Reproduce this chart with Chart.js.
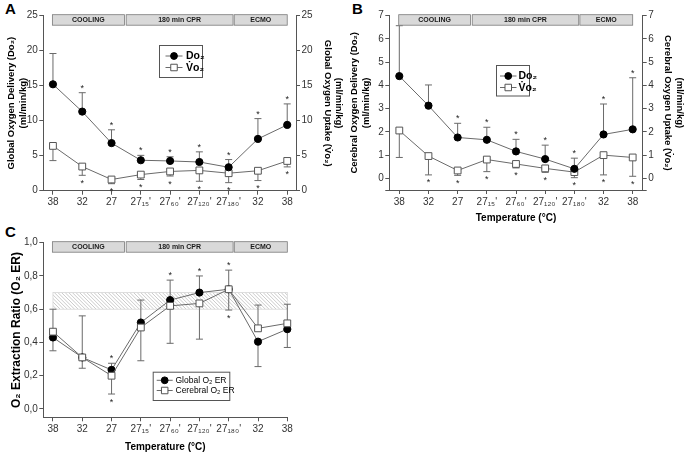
<!DOCTYPE html>
<html><head><meta charset="utf-8">
<script src="https://cdn.jsdelivr.net/npm/chart.js@4/dist/chart.umd.min.js"></script>
<style>
html,body{margin:0;padding:0;background:#fff;}
body{width:685px;height:454px;position:relative;overflow:hidden;font-family:Arial,"Liberation Sans",Helvetica,sans-serif;}
canvas{position:absolute;display:block;}
.lbl{position:absolute;font-weight:bold;font-size:15px;line-height:15px;color:#000;}
</style></head><body>
<div class="lbl" style="left:5px;top:1px">A</div>
<div class="lbl" style="left:352px;top:1px">B</div>
<div class="lbl" style="left:5px;top:224px">C</div>
<canvas id="cA" width="345" height="215" style="left:0;top:0"></canvas>
<canvas id="cB" width="342" height="228" style="left:343px;top:0"></canvas>
<canvas id="cC" width="345" height="239" style="left:0;top:215px"></canvas>
<script>
// ---------------- data ----------------
const tempLabels = ['38','32','27','27\u2081\u2085\'','27\u2086\u2080\'','27\u2081\u2082\u2080\'','27\u2081\u2088\u2080\'','32','38'];
const phaseNames = ['COOLING','180 min CPR','ECMO'];

const globalTicks   = [0,5,10,15,20,25];
const cerebralTicks = [-0.5,0,1,2,3,4,5,6,7];
const erTicks       = [0,0.2,0.4,0.6,0.8,1.0];

// Panel A - global
const globalDo2    = [15.2, 11.3, 6.8, 4.35, 4.25, 4.1, 3.35, 7.4, 9.4];
const globalDo2Err = [19.6, 14.0, 8.7, 5.05, 4.85, 5.55, 4.45, 10.3, 12.4];
const globalDo2Sig = [0,1,1,1,1,1,1,1,1];
const globalVo2    = [6.4, 3.45, 1.6, 2.3, 2.75, 2.9, 2.5, 2.85, 4.25];
const globalVo2Err = [4.3, 2.2, 1.0, 1.6, 2.1, 1.35, 1.15, 1.45, 3.4];
const globalVo2Sig = [0,1,1,1,1,1,1,1,1];

// Panel B - cerebral
const cerebralDo2    = [4.4, 3.13, 1.76, 1.66, 1.16, 0.83, 0.41, 1.89, 2.11];
const cerebralDo2Err = [6.57, 4.02, 2.37, 2.2, 1.68, 1.43, 0.87, 3.2, 4.33];
const cerebralDo2Sig = [0,0,1,1,1,1,1,1,1];
const cerebralVo2    = [2.06, 0.96, 0.34, 0.81, 0.62, 0.43, 0.27, 1.0, 0.9];
const cerebralVo2Err = [0.9, 0.15, 0.13, 0.29, 0.45, 0.26, 0.03, 0.15, 0.09];
const cerebralVo2Sig = [0,1,1,1,1,1,1,1,1];

// Panel C - O2 extraction ratio
const globalER      = [0.43, 0.31, 0.235, 0.52, 0.655, 0.70, 0.72, 0.405, 0.48];
const globalERErr   = [0.35, 0.245, 0.275, 0.655, 0.775, 0.80, 0.835, 0.255, 0.37];
const globalERSig   = [0,0,1,0,1,1,1,0,0];
const cerebralER    = [0.465, 0.31, 0.20, 0.49, 0.62, 0.635, 0.72, 0.485, 0.515];
const cerebralERErr = [0.60, 0.56, 0.09, 0.29, 0.395, 0.42, 0.595, 0.625, 0.63];
const cerebralERSig = [0,0,1,0,0,0,1,0,0];
const normalERRange = [0.6, 0.7];

// ---------------- styling helpers ----------------
const FONT = 'Arial, "Liberation Sans", Helvetica, sans-serif';
const AXIS = '#555', TICKTXT = '#333', LINE = '#6a6a6a', ERR = '#6a6a6a';

function series(vals){ return vals.map((v,i)=>({x:i,y:v})); }
function filledDs(label, vals, err, sig, yAxisID, order){
  return {label, data: series(vals), errEnd: err, sig, yAxisID, order: order||0,
    borderColor: LINE, borderWidth: 1, tension: 0, clip: false,
    pointStyle: 'circle', pointRadius: 3.6, pointHoverRadius: 3.6,
    pointBackgroundColor: '#000', pointBorderColor: '#000', pointBorderWidth: 1};
}
function openDs(label, vals, err, sig, yAxisID, order){
  return {label, data: series(vals), errEnd: err, sig, yAxisID, order: order||0,
    borderColor: LINE, borderWidth: 1, tension: 0, clip: false,
    pointStyle: 'rect', pointRadius: 4.8, pointHoverRadius: 4.8,
    pointBackgroundColor: '#fff', pointBorderColor: '#555', pointBorderWidth: 1};
}
function yAxis(pos, min, max, ticks, width, title, titlePad, fmt, tsize){
  return {
    type: 'linear', position: pos, min, max,
    afterBuildTicks: s => { s.ticks = ticks.map(v => ({value: v})); },
    afterFit: s => { s.width = width; },
    ticks: {font: {family: FONT, size: 10}, color: TICKTXT, padding: 1.5, callback: fmt},
    grid: {drawOnChartArea: false, tickLength: 4, color: AXIS, tickWidth: 1},
    border: {color: AXIS, width: 1},
    title: {display: true, text: title, color: '#000',
      font: {family: FONT, size: tsize || 9.5, weight: 'bold', lineHeight: 1.2},
      padding: {top: titlePad, bottom: 0}}
  };
}
function xAxis(min, max, height, title, titlePad){
  return {
    type: 'linear', position: 'bottom', min, max,
    afterBuildTicks: s => { s.ticks = tempLabels.map((_, i) => ({value: i})); },
    afterFit: s => { s.height = height; },
    ticks: {font: {family: FONT, size: 10}, color: TICKTXT, padding: 2, maxRotation: 0,
      autoSkip: false, callback: v => tempLabels[v] !== undefined ? tempLabels[v] : ''},
    grid: {drawOnChartArea: false, tickLength: 4, color: AXIS, tickWidth: 1},
    border: {color: AXIS, width: 1},
    title: title ? {display: true, text: title, color: '#000',
      font: {family: FONT, size: 10, weight: 'bold', lineHeight: 1.2},
      padding: {top: 0, bottom: titlePad}} : {display: false}
  };
}

function drawMarker(ctx, ds, x, y){
  ctx.save();
  ctx.lineWidth = 1;
  ctx.fillStyle = ds.pointBackgroundColor;
  ctx.strokeStyle = ds.pointBorderColor;
  ctx.beginPath();
  if (ds.pointStyle === 'rect') {
    const s = ds.pointRadius * Math.SQRT1_2;
    ctx.rect(x - s, y - s, 2*s, 2*s);
  } else {
    ctx.arc(x, y, ds.pointRadius, 0, Math.PI*2);
  }
  ctx.fill(); ctx.stroke();
  ctx.restore();
}

const phaseSpans = [[-0.02, 2.44], [2.50, 6.15], [6.19, 8.0]];

const extras = {
  id: 'extras',
  beforeDatasetsDraw(chart, args, opts){
    const ctx = chart.ctx, xs = chart.scales.x;
    if (opts.band) {
      const ys = chart.scales.y;
      const x0 = xs.getPixelForValue(0), x1 = xs.getPixelForValue(8);
      const yT = ys.getPixelForValue(opts.band[1]), yB = ys.getPixelForValue(opts.band[0]);
      const h = yB - yT;
      ctx.save();
      ctx.beginPath(); ctx.rect(x0, yT, x1 - x0, h); ctx.clip();
      ctx.strokeStyle = '#bdbdbd'; ctx.lineWidth = 0.8;
      for (let x = x0 - h; x < x1 + h; x += 3.6) {
        ctx.beginPath(); ctx.moveTo(x, yT); ctx.lineTo(x + h, yB); ctx.stroke();
      }
      ctx.restore();
      ctx.save(); ctx.strokeStyle = '#d6d6d6'; ctx.lineWidth = 0.8;
      ctx.strokeRect(x0, yT, x1 - x0, h); ctx.restore();
    }
    // error bars
    chart.data.datasets.forEach(ds => {
      const ys = chart.scales[ds.yAxisID || 'y'];
      ds.errEnd.forEach((e, i) => {
        const px = xs.getPixelForValue(i);
        const p0 = ys.getPixelForValue(ds.data[i].y), p1 = ys.getPixelForValue(e);
        ctx.save();
        ctx.strokeStyle = ERR; ctx.lineWidth = 1;
        ctx.beginPath();
        ctx.moveTo(px, p0); ctx.lineTo(px, p1);
        ctx.moveTo(px - 3.5, p1); ctx.lineTo(px + 3.5, p1);
        ctx.stroke();
        ctx.restore();
      });
    });
  },
  afterDatasetsDraw(chart, args, opts){
    const ctx = chart.ctx, xs = chart.scales.x;
    ctx.save();
    ctx.font = '9px ' + FONT;
    ctx.fillStyle = '#222';
    ctx.textAlign = 'center';
    ctx.textBaseline = 'alphabetic';
    const m = ctx.measureText('*');
    const mid = (m.actualBoundingBoxDescent - m.actualBoundingBoxAscent) / 2;
    chart.data.datasets.forEach(ds => {
      const ys = chart.scales[ds.yAxisID || 'y'];
      ds.sig.forEach((s, i) => {
        if (!s) return;
        const px = xs.getPixelForValue(i);
        const up = ds.errEnd[i] >= ds.data[i].y;
        const pe = ys.getPixelForValue(ds.errEnd[i]);
        const cy = up ? pe - 6 : pe + 6.5;
        ctx.fillText('*', px, cy - mid);
      });
    });
    ctx.restore();
  },
  afterDraw(chart, args, opts){
    const ctx = chart.ctx, xs = chart.scales.x, ca = chart.chartArea;
    // phase bars
    ctx.save();
    phaseSpans.forEach((sp, k) => {
      const a = xs.getPixelForValue(sp[0]), b = xs.getPixelForValue(sp[1]);
      const top = ca.top - 1, h = 10.5;
      ctx.fillStyle = '#d9d9d9';
      ctx.fillRect(a, top, b - a, h);
      ctx.strokeStyle = '#7a7a7a'; ctx.lineWidth = 0.8;
      ctx.strokeRect(a, top, b - a, h);
      ctx.fillStyle = '#1a1a1a';
      ctx.font = 'bold 7px ' + FONT;
      ctx.textAlign = 'center'; ctx.textBaseline = 'middle';
      ctx.fillText(phaseNames[k], (a + b) / 2, top + h / 2 + 0.5);
    });
    ctx.restore();
    // legend
    const L = opts.legend;
    if (L) {
      ctx.save();
      ctx.fillStyle = '#fff';
      ctx.fillRect(L.box[0], L.box[1], L.box[2], L.box[3]);
      ctx.strokeStyle = '#555'; ctx.lineWidth = 1;
      ctx.strokeRect(L.box[0] + 0.5, L.box[1] + 0.5, L.box[2], L.box[3]);
      chart.data.datasets.forEach((ds, i) => {
        const y = L.rows[i];
        ctx.strokeStyle = LINE; ctx.lineWidth = 1;
        ctx.beginPath(); ctx.moveTo(L.line[0], y); ctx.lineTo(L.line[1], y); ctx.stroke();
        drawMarker(ctx, Object.assign({}, ds, {pointRadius: ds.pointStyle === 'rect' ? 4.6 : 3.4}), (L.line[0] + L.line[1]) / 2, y);
        ctx.fillStyle = '#000';
        ctx.font = (L.weight || 'normal') + ' ' + L.size + 'px ' + FONT;
        ctx.textAlign = 'left'; ctx.textBaseline = 'middle';
        ctx.fillText(ds.label, L.textX, y + 0.5);
      });
      ctx.restore();
    }
  }
};

function baseOptions(padding, scales, extraOpts){
  return {
    type: 'line',
    options: {
      responsive: false, animation: false, events: [],
      layout: {padding},
      scales,
      plugins: {legend: {display: false}, tooltip: {enabled: false}, extras: extraOpts}
    },
    plugins: [extras]
  };
}

// ---------------- Panel A ----------------
(function(){
  const cfg = baseOptions({top: 15.7, left: 0, right: 0, bottom: 0}, {
    x: xAxis(-0.33, 8.3, 24.3, null, 0),
    y: yAxis('left', 0, 25, globalTicks, 43.3, ['Global Oxygen Delivery (Do\u2082)', '(ml/min/kg)'], 6, v => String(v)),
    y2: yAxis('right', 0, 25, globalTicks, 49, ['(ml/min/kg)', 'Global Oxygen Uptake (V\u0307o\u2082)'], 0.5, v => String(v))
  }, {legend: {box: [159, 45, 43, 32], rows: [56, 67.5], line: [165.5, 182.5], textX: 186, size: 10.5, weight: 'bold'}});
  cfg.data = {datasets: [
    filledDs('Do\u2082', globalDo2, globalDo2Err, globalDo2Sig, 'y'),
    openDs('V\u0307o\u2082', globalVo2, globalVo2Err, globalVo2Sig, 'y2')
  ]};
  new Chart(document.getElementById('cA'), cfg);
})();

// ---------------- Panel B ----------------
(function(){
  const cfg = baseOptions({top: 15.7, left: 0, right: 0, bottom: 0}, {
    x: xAxis(-0.343, 8.343, 38, 'Temperature (\u00B0C)', 4),
    y: yAxis('left', -0.5, 7, cerebralTicks, 46.3, ['Cerebral Oxygen Delivery (Do\u2082)', '(ml/min/kg)'], 6, v => v < 0 ? '' : String(v)),
    y2: yAxis('right', -0.5, 7, cerebralTicks, 42.3, ['(ml/min/kg)', 'Cerebral Oxygen Uptake (V\u0307o\u2082)'], 0, v => v < 0 ? '' : String(v))
  }, {legend: {box: [153, 65, 33, 30.5], rows: [76, 87.5], line: [157, 173.5], textX: 175.5, size: 10.5, weight: 'bold'}});
  cfg.data = {datasets: [
    filledDs('Do\u2082', cerebralDo2, cerebralDo2Err, cerebralDo2Sig, 'y'),
    openDs('V\u0307o\u2082', cerebralVo2, cerebralVo2Err, cerebralVo2Sig, 'y2')
  ]};
  new Chart(document.getElementById('cB'), cfg);
})();

// ---------------- Panel C ----------------
(function(){
  const cfg = baseOptions({top: 27.7, left: 0, right: 57.7, bottom: 0}, {
    x: xAxis(-0.33, 8.0, 36.7, 'Temperature (\u00B0C)', 1),
    y: yAxis('left', -0.05, 1.0, erTicks, 43.3, 'O\u2082 Extraction Ratio (O\u2082 ER)', 9, v => v.toFixed(1).replace('.', ','), 12)
  }, {band: normalERRange, legend: {box: [152.7, 156.7, 76.6, 28.3], rows: [165.3, 175.5], line: [156.7, 172.7], textX: 175.5, size: 8.5}});
  cfg.data = {datasets: [
    filledDs('Global O\u2082 ER', globalER, globalERErr, globalERSig, 'y', 1),
    openDs('Cerebral O\u2082 ER', cerebralER, cerebralERErr, cerebralERSig, 'y', 0)
  ]};
  new Chart(document.getElementById('cC'), cfg);
})();
</script>
</body></html>
